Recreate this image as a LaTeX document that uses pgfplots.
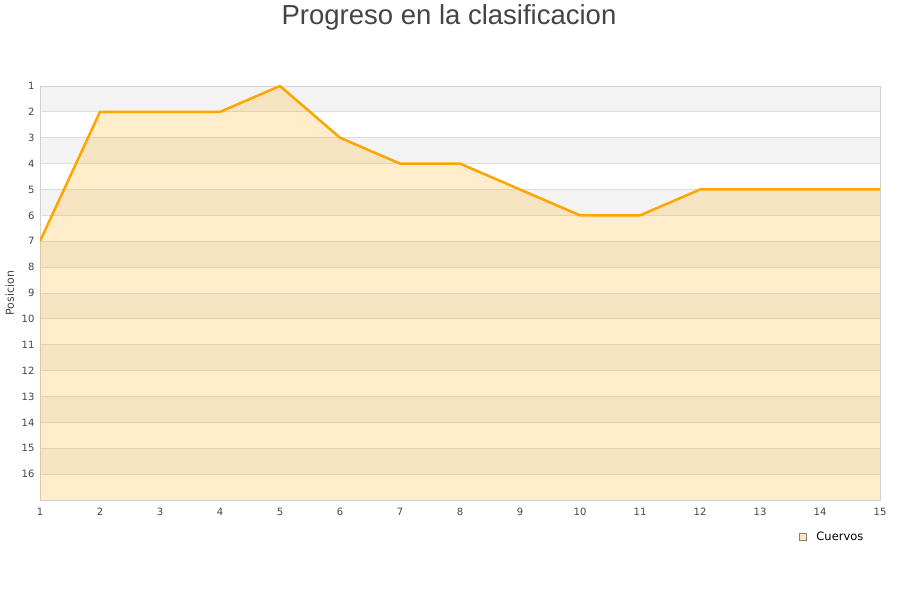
\documentclass[border=0pt]{standalone}
\usepackage{fontspec}
\setmainfont{DejaVu Sans}
\newfontfamily\titlefont{Liberation Sans}
\usepackage{pgfplots}
\pgfplotsset{compat=1.18}
\definecolor{orng}{HTML}{FFA500}
\definecolor{band}{HTML}{F3F3F3}
\definecolor{gridc}{HTML}{DDDDDD}
\definecolor{txt}{HTML}{444444}

\begin{document}
\begin{tikzpicture}
\begin{axis}[
	at={(40pt,100pt)}, anchor=south west,
	scale only axis, width=840pt, height=414pt,
	xmin=1, xmax=15, ymin=1, ymax=17,
	y dir=reverse,
	xtick={1,...,15}, ytick={1,...,16},
	/pgf/number format/assume math mode=true,
	ymajorgrids,
	grid style={draw=gridc, line width=0.8pt},
	axis line style={draw=black!18},
	tick style={draw=none},
	ticklabel style={font=\fontsize{10}{12}\selectfont, text=txt},
	xticklabel style={yshift=-5pt},
	yticklabel style={xshift=-2pt},
	ylabel=Posicion,
	ylabel style={font=\fontsize{11}{13}\selectfont, text=txt,
		at={(axis description cs:-0.036,0.5)}, anchor=center},
	set layers,
	legend style={at={(axis description cs:0.9035,-0.0894)}, anchor=west,
		draw=none, fill=none, font=\fontsize{11.5}{13}\selectfont,
		inner sep=0pt},
	legend image code/.code={
		\draw[draw=black!50, fill=orng!25, line width=0.6pt] (0pt,-3.5pt) rectangle (7pt,3.5pt);
		\path[draw=none] (0pt,0pt) -- (15pt,0pt);
	},
]
	\begin{pgfonlayer}{axis background}
		\fill[band] (axis cs:1,1) rectangle (axis cs:15,2);
		\fill[band] (axis cs:1,3) rectangle (axis cs:15,4);
		\fill[band] (axis cs:1,5) rectangle (axis cs:15,6);
		\fill[band] (axis cs:1,7) rectangle (axis cs:15,8);
		\fill[band] (axis cs:1,9) rectangle (axis cs:15,10);
		\fill[band] (axis cs:1,11) rectangle (axis cs:15,12);
		\fill[band] (axis cs:1,13) rectangle (axis cs:15,14);
		\fill[band] (axis cs:1,15) rectangle (axis cs:15,16);
	\end{pgfonlayer}

	%% area below the line
	\addplot[draw=none, fill=orng, fill opacity=0.2, forget plot] coordinates {
		(1,7) (2,2) (3,2) (4,2) (5,1) (6,3) (7,4) (8,4)
		(9,5) (10,6) (11,6) (12,5) (13,5) (14,5) (15,5)
		(15,17) (1,17)
	};

	%% Cuervos
	\addplot[draw=orng, line width=2.5pt, mark=none] coordinates {
		(1,7) (2,2) (3,2) (4,2) (5,1) (6,3) (7,4) (8,4)
		(9,5) (10,6) (11,6) (12,5) (13,5) (14,5) (15,5)
	};
	\legend{Cuervos}
\end{axis}
\node[font=\titlefont\fontsize{27.5}{32}\selectfont, text=txt] at (449pt,583pt) {Progreso en la clasificacion};
\path (0pt,0pt) rectangle (900pt,600pt);
\end{tikzpicture}
\end{document}
